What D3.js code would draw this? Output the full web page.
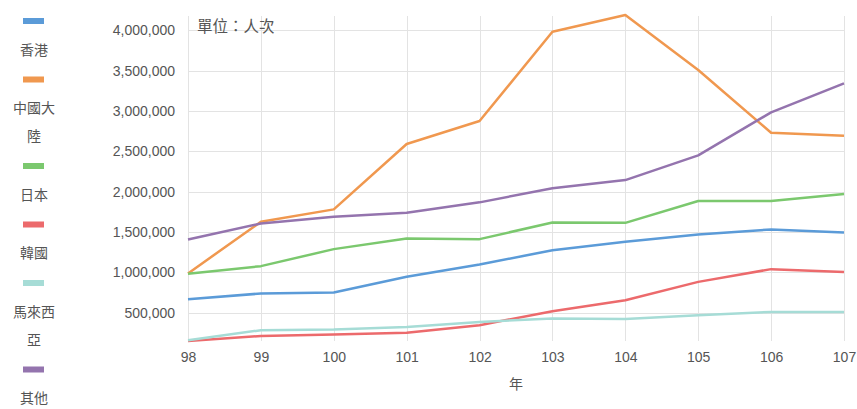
<!DOCTYPE html>
<html>
<head>
<meta charset="utf-8">
<script src="https://cdn.jsdelivr.net/npm/d3@7"></script>
<style>
    body { margin: 0; background: #fff; }
    svg { display: block; font-family: "Open Sans", "Noto Sans CJK TC", sans-serif; }
    .grid line { stroke: #e3e3e3; stroke-width: 1; }
    .axis text { fill: #555; font-size: 14px; }
    .legend text { fill: #555; font-size: 14px; }
</style>
</head>
<body>
<svg id="chart" width="857" height="409"></svg>
<script>
// 年度 (民國)
const years = ['98', '99', '100', '101', '102', '103', '104', '105', '106', '107'];

// 來台旅客人次
const hongKong = [669000, 739000, 752000, 946000, 1099000, 1275000, 1380000, 1471000, 1533000, 1496000];
const mainland = [988000, 1628000, 1782000, 2592000, 2877000, 3985000, 4192000, 3510000, 2732000, 2695000];
const japan = [985000, 1078000, 1289000, 1422000, 1413000, 1620000, 1615000, 1885000, 1885000, 1972000];
const korea = [150000, 213000, 231000, 251000, 346000, 520000, 656000, 883000, 1041000, 1007000];
const malaysia = [160000, 284000, 293000, 325000, 387000, 429000, 422000, 470000, 511000, 511000];
const others = [1409000, 1608000, 1690000, 1740000, 1869000, 2045000, 2145000, 2452000, 2985000, 3345000];

const yTicks = [500000, 1000000, 1500000, 2000000, 2500000, 3000000, 3500000, 4000000];

const series = [
    { name: ['香港'], values: hongKong, color: '#5b9bd8' },
    { name: ['中國大', '陸'], values: mainland, color: '#f0984f' },
    { name: ['日本'], values: japan, color: '#7bc86e' },
    { name: ['韓國'], values: korea, color: '#ec6a6c' },
    { name: ['馬來西', '亞'], values: malaysia, color: '#a6dcd6' },
    { name: ['其他'], values: others, color: '#9474ae' }
];

const svg = d3.select('#chart');

const plot = { left: 188, right: 844, top: 15, bottom: 341 };

const allValues = series.flatMap(s => s.values);
const x = d3.scalePoint().domain(years).range([plot.left, plot.right]);
const y = d3.scaleLinear()
    .domain([d3.min(allValues), d3.max(allValues)])
    .range([plot.bottom, plot.top]);

// grid
const grid = svg.append('g').attr('class', 'grid');
grid.selectAll('line.h')
    .data(yTicks)
    .join('line')
    .attr('class', 'h')
    .attr('x1', plot.left)
    .attr('x2', plot.right)
    .attr('y1', d => Math.round(y(d)) + 0.5)
    .attr('y2', d => Math.round(y(d)) + 0.5);
grid.selectAll('line.v')
    .data(years)
    .join('line')
    .attr('class', 'v')
    .attr('x1', d => Math.round(x(d)) + 0.5)
    .attr('x2', d => Math.round(x(d)) + 0.5)
    .attr('y1', plot.top + 1)
    .attr('y2', plot.bottom);

// axes
const yAxis = svg.append('g')
    .attr('class', 'axis')
    .attr('transform', `translate(${plot.left},0)`)
    .call(d3.axisLeft(y).tickValues(yTicks).tickFormat(d3.format(',')).tickSize(0).tickPadding(13));
yAxis.select('.domain').remove();

const xAxis = svg.append('g')
    .attr('class', 'axis')
    .attr('transform', `translate(0,${plot.bottom})`)
    .call(d3.axisBottom(x).tickSize(0).tickPadding(11));
xAxis.select('.domain').remove();

svg.append('text')
    .attr('x', (plot.left + plot.right) / 2)
    .attr('y', 389)
    .attr('text-anchor', 'middle')
    .attr('fill', '#555')
    .style('font-size', '14px')
    .text('年');

svg.append('text')
    .attr('x', 197)
    .attr('y', 32)
    .attr('fill', '#555')
    .style('font-size', '15.5px')
    .text('單位：人次');

// lines
const line = d3.line()
    .x((d, i) => x(years[i]))
    .y(d => y(d));

svg.append('g')
    .selectAll('path')
    .data(series)
    .join('path')
    .attr('d', d => line(d.values))
    .attr('fill', 'none')
    .attr('stroke', d => d.color)
    .attr('stroke-width', 2.5)
    .attr('stroke-linejoin', 'round');

// legend (stacked, wrapped text)
const legend = svg.append('g').attr('class', 'legend');
let ly = 18;
series.forEach(s => {
    legend.append('rect')
        .attr('x', 23)
        .attr('y', ly)
        .attr('width', 21)
        .attr('height', 6)
        .attr('fill', s.color);
    ly += 32.5;
    s.name.forEach(part => {
        legend.append('text')
            .attr('x', 34)
            .attr('y', ly + 4)
            .attr('text-anchor', 'middle')
            .text(part);
        ly += 28;
    });
    ly -= 2;
});
</script>
</body>
</html>
